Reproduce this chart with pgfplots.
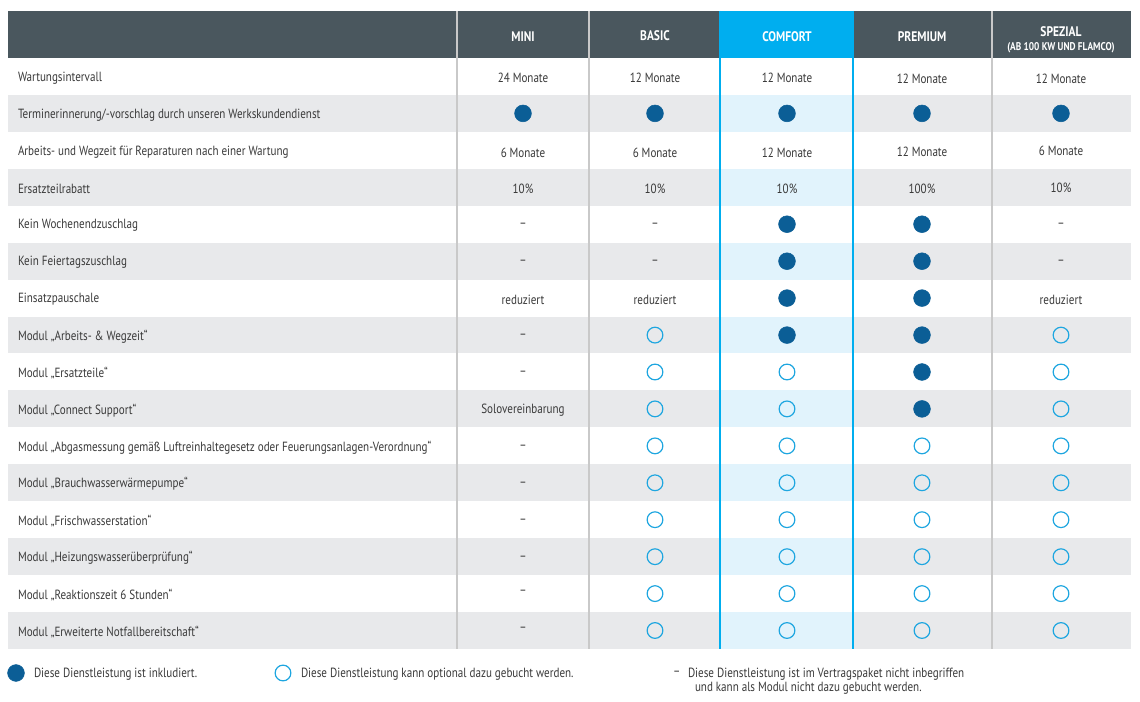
\documentclass[border=0pt]{standalone}
\usepackage{pgfplots}
\pgfplotsset{compat=1.18}
\usepackage{fontspec}
\setmainfont{PT Sans}[FakeStretch=0.83]

\definecolor{hdr}{HTML}{4A575E}
\definecolor{cyanhd}{HTML}{00AEEF}
\definecolor{lightblue}{HTML}{E1F3FC}
\definecolor{rowgray}{HTML}{E8E9EB}
\definecolor{dot}{HTML}{0B5E96}
\definecolor{ring}{HTML}{1EA6E0}
\definecolor{txt}{HTML}{3A3A3A}
\definecolor{sep}{HTML}{C9C9C9}

\newcommand{\fs}{\fontsize{10}{12}\selectfont}

\begin{document}
\begin{tikzpicture}
\begin{axis}[
    x=0.75pt, y=0.75pt, y dir=reverse,
    xmin=0, xmax=1140, ymin=0, ymax=702,
    scale only axis, hide axis, clip=false,
  ]
  % page
  \fill[white] (axis cs:0,0) rectangle (axis cs:1140,702);
  % striped rows (top y of each grey row, height 36.9)
  \pgfplotsinvokeforeach{95.0,168.8,242.7,316.6,390.5,464.3,538.2,612.0}{
    \fill[rowgray] (axis cs:8,#1) rectangle (axis cs:1131,#1+36.9);
    \fill[lightblue] (axis cs:720,#1) rectangle (axis cs:853,#1+36.9);
  }
  % header
  \fill[hdr] (axis cs:8,11) rectangle (axis cs:1131,58);
  \fill[cyanhd] (axis cs:720,11) rectangle (axis cs:853,58);
  % column lines
  \pgfplotsinvokeforeach{457,589,992}{
    \draw[sep, line width=0.8pt] (axis cs:#1,11) -- (axis cs:#1,649);
  }
  \draw[cyanhd, line width=0.9pt] (axis cs:720,11) -- (axis cs:720,649);
  \draw[cyanhd, line width=0.9pt] (axis cs:853,11) -- (axis cs:853,649);

  \begin{scope}[every node/.style={font=\fs, text=txt, inner sep=0pt, outer sep=0pt, yshift=-1pt}]
  % header labels
  \begin{scope}[every node/.append style={text=white, font=\fontsize{10.4}{12}\selectfont\bfseries}]
    \node at (axis cs:523,35) {MINI};
    \node at (axis cs:655,34) {BASIC};
    \node at (axis cs:787,35) {COMFORT};
    \node at (axis cs:922,35) {PREMIUM};
    \node at (axis cs:1061,30) {SPEZIAL};
    \node[font=\fontsize{8.4}{10}\selectfont\bfseries] at (axis cs:1061,46) {(AB 100 KW UND FLAMCO)};
  \end{scope}

  % row labels
  \begin{scope}[every node/.append style={anchor=west}]
    \node at (axis cs:18,76.5)  {Wartungsintervall};
    \node at (axis cs:18,113.4) {Terminerinnerung/-vorschlag durch unseren Werkskundendienst};
    \node at (axis cs:18,150.4) {Arbeits- und Wegzeit für Reparaturen nach einer Wartung};
    \node at (axis cs:18,187.3) {Ersatzteilrabatt};
    \node at (axis cs:18,224.2) {Kein Wochenendzuschlag};
    \node at (axis cs:18,261.2) {Kein Feiertagszuschlag};
    \node at (axis cs:18,298.1) {Einsatzpauschale};
    \node at (axis cs:18,335.1) {Modul „Arbeits- \& Wegzeit“};
    \node at (axis cs:18,372.0) {Modul „Ersatzteile“};
    \node at (axis cs:18,408.9) {Modul „Connect Support“};
    \node at (axis cs:18,445.9) {Modul „Abgasmessung gemäß Luftreinhaltegesetz oder Feuerungsanlagen-Verordnung“};
    \node at (axis cs:18,482.8) {Modul „Brauchwasserwärmepumpe“};
    \node at (axis cs:18,519.7) {Modul „Frischwasserstation“};
    \node at (axis cs:18,556.7) {Modul „Heizungswasserüberprüfung“};
    \node at (axis cs:18,593.6) {Modul „Reaktionszeit 6 Stunden“};
    \node at (axis cs:18,630.5) {Modul „Erweiterte Notfallbereitschaft“};
  \end{scope}

  % text cells
  \node at (axis cs:523,76.5) {24 Monate};
  \node at (axis cs:655,76.5) {12 Monate};
  \node at (axis cs:787,76.5) {12 Monate};
  \node at (axis cs:922,77.5) {12 Monate};
  \node at (axis cs:1061,77.5) {12 Monate};
  \node at (axis cs:523,151.5) {6 Monate};
  \node at (axis cs:655,151.5) {6 Monate};
  \node at (axis cs:787,151.5) {12 Monate};
  \node at (axis cs:922,151) {12 Monate};
  \node at (axis cs:1061,149.5) {6 Monate};
  \node at (axis cs:523,187.5) {10\%};
  \node at (axis cs:655,187.5) {10\%};
  \node at (axis cs:787,187.5) {10\%};
  \node at (axis cs:922,187.5) {100\%};
  \node at (axis cs:1061,186.5) {10\%};
  \node at (axis cs:523,298.1) {reduziert};
  \node at (axis cs:655,298.1) {reduziert};
  \node at (axis cs:1061,298.1) {reduziert};
  \node at (axis cs:523,408.9) {Solovereinbarung};
  % dashes
  \pgfplotsinvokeforeach{224.2,261.2,335.1,372.0,445.9,482.8,519.7,556.7,591,628}{
    \node at (axis cs:523,#1) {–};
  }
  \pgfplotsinvokeforeach{224.2,261.2}{
    \node at (axis cs:655,#1) {–};
    \node at (axis cs:1061,#1) {–};
  }

  % legend
  \begin{scope}[every node/.append style={anchor=west}]
    \node at (axis cs:34,673) {Diese Dienstleistung ist inkludiert.};
    \node at (axis cs:301,673) {Diese Dienstleistung kann optional dazu gebucht werden.};
    \node at (axis cs:673,672) {–};
    \node at (axis cs:688,673) {Diese Dienstleistung ist im Vertragspaket nicht inbegriffen};
    \node at (axis cs:695,687) {und kann als Modul nicht dazu gebucht werden.};
  \end{scope}
  \end{scope}

  % included (filled)
  \addplot[only marks, mark=*, mark size=6.3pt, mark options={draw=dot, fill=dot}]
    coordinates {
      (523,113.4)(655,113.4)(787,113.4)(922,113.4)(1061,113.4)
      (787,224.2)(922,224.2)
      (787,261.2)(922,261.2)
      (787,298.1)(922,298.1)
      (787,335.1)(922,335.1)
      (922,372.0)
      (922,408.9)
      (16,673)
    };
  % optional (ring)
  \addplot[only marks, mark=o, mark size=5.9pt, mark options={draw=ring, line width=0.9pt, fill=white}]
    coordinates {
      (655,335.1)(1061,335.1)
      (655,372.0)(787,372.0)(1061,372.0)
      (655,408.9)(787,408.9)(1061,408.9)
      (655,445.9)(787,445.9)(922,445.9)(1061,445.9)
      (655,482.8)(787,482.8)(922,482.8)(1061,482.8)
      (655,519.7)(787,519.7)(922,519.7)(1061,519.7)
      (655,556.7)(787,556.7)(922,556.7)(1061,556.7)
      (655,593.6)(787,593.6)(922,593.6)(1061,593.6)
      (655,630.5)(787,630.5)(922,630.5)(1061,630.5)
      (283,673)
    };
\end{axis}
\end{tikzpicture}
\end{document}
